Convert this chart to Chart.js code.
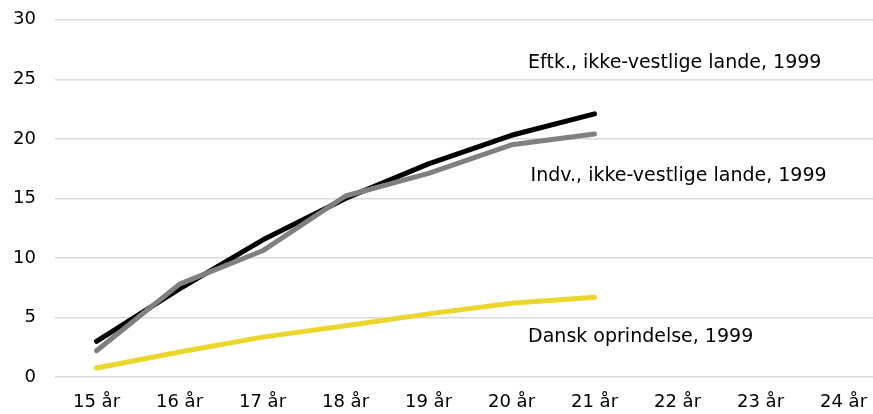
<!DOCTYPE html>
<html>
<head>
<meta charset="utf-8">
<script src="https://cdn.jsdelivr.net/npm/chart.js@4.4.1/dist/chart.umd.min.js"></script>
<style>
  html, body { margin: 0; padding: 0; background: #fff; overflow: hidden; }
  canvas { display: block; margin-top: -10px; }
</style>
</head>
<body>
<canvas id="c" width="885" height="424"></canvas>
<script>
const categories = ["15 år", "16 år", "17 år", "18 år", "19 år", "20 år", "21 år", "22 år", "23 år", "24 år"];
const eftkValues = [3.0, 7.4, 11.5, 15.0, 17.9, 20.3, 22.1, null, null, null];
const indvValues = [2.2, 7.8, 10.6, 15.2, 17.1, 19.5, 20.4, null, null, null];
const danskValues = [0.75, 2.1, 3.35, 4.3, 5.3, 6.2, 6.7, null, null, null];
const seriesNames = ["Eftk., ikke-vestlige lande, 1999", "Indv., ikke-vestlige lande, 1999", "Dansk oprindelse, 1999"];
const labelCatPos = [5.2, 5.23, 5.2];
const labelValPos = [26.4, 16.9, 3.35];
const yTicks = [0, 5, 10, 15, 20, 25, 30];

const FONT = "'DejaVu Sans', Verdana, sans-serif";

const labelPlugin = {
  id: 'seriesLabels',
  afterDatasetsDraw(chart) {
    const ctx = chart.ctx;
    const xs = chart.scales.x, ys = chart.scales.y;
    ctx.save();
    ctx.font = "19px " + FONT;
    ctx.fillStyle = "#000";
    ctx.textAlign = "left";
    ctx.textBaseline = "middle";
    seriesNames.forEach((name, i) => {
      const x = xs.getPixelForValue(labelCatPos[i]);
      const y = ys.getPixelForValue(labelValPos[i]);
      ctx.fillText(name, x, y);
    });
    ctx.restore();
  }
};

const common = { borderWidth: 5, pointRadius: 0, pointHoverRadius: 0, tension: 0, fill: false,
  borderCapStyle: 'round', borderJoinStyle: 'round', spanGaps: false };

new Chart(document.getElementById('c'), {
  type: 'line',
  data: {
    labels: categories,
    datasets: [
      Object.assign({ label: seriesNames[2], data: danskValues, borderColor: '#EBD62B' }, common),
      Object.assign({ label: seriesNames[1], data: indvValues, borderColor: '#808080' }, common),
      Object.assign({ label: seriesNames[0], data: eftkValues, borderColor: '#000000' }, common)
    ]
  },
  options: {
    responsive: false,
    animation: false,
    events: [],
    layout: { padding: { top: 3, right: 0, bottom: 0, left: 0 } },
    plugins: { legend: { display: false }, tooltip: { enabled: false } },
    scales: {
      x: {
        offset: true,
        grid: { display: false, drawTicks: false },
        border: { display: false },
        afterFit(axis) { axis.height = 37; },
        ticks: { color: '#000', font: { family: FONT, size: 18 }, padding: 15, maxRotation: 0, autoSkip: false }
      },
      y: {
        min: 0, max: 30,
        afterBuildTicks(axis) { axis.ticks = yTicks.map(v => ({ value: v })); },
        afterFit(axis) { axis.width = 55; },
        grid: { color: '#D9D9D9', lineWidth: 1.5, drawTicks: false },
        border: { display: false },
        ticks: { color: '#000', font: { family: FONT, size: 18 }, padding: 19 }
      }
    }
  },
  plugins: [labelPlugin]
});
</script>
</body>
</html>
